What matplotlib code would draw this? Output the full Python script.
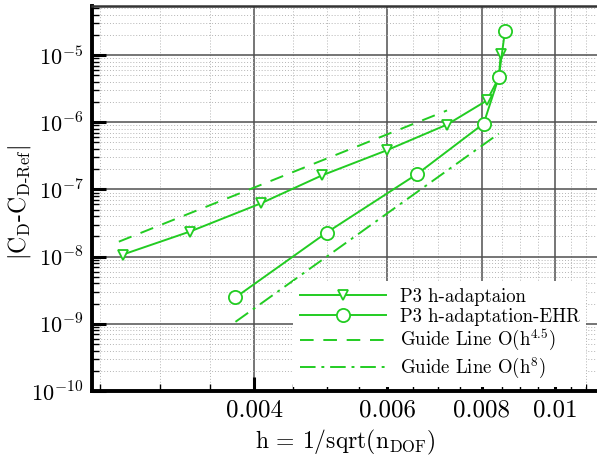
import numpy as np
import matplotlib
matplotlib.use("Agg")
import matplotlib.pyplot as plt
from matplotlib.ticker import FixedLocator, FixedFormatter, NullFormatter

plt.rcParams['font.family'] = 'serif'
plt.rcParams['font.serif'] = ['cmr10']
plt.rcParams['mathtext.fontset'] = 'cm'
plt.rcParams['axes.unicode_minus'] = False

# P3 h-adaptaion (triangles)
h_tri = [0.00268, 0.00329, 0.00408, 0.00492, 0.00599, 0.00720, 0.00813, 0.00843, 0.00848]
err_tri = [1.07e-8, 2.36e-8, 6.18e-8, 1.62e-7, 3.82e-7, 9.24e-7, 2.11e-6, 4.6e-6, 1.03e-5]

# P3 h-adaptation-EHR (circles)
h_circ = [0.00378, 0.00499, 0.00658, 0.00805, 0.00843, 0.00859]
err_circ = [2.47e-9, 2.28e-8, 1.71e-7, 9.56e-7, 4.70e-6, 2.28e-5]

# guide lines (end points)
h_g45 = [0.00265, 0.00720]
err_g45 = [1.67e-8, 1.50e-6]
h_g8 = [0.00378, 0.00843]
err_g8 = [1.07e-9, 6.78e-7]

xticks = [0.004, 0.006, 0.008, 0.01]
xtick_labels = ['0.004', '0.006', '0.008', '0.01']
yticks = [1e-10, 1e-9, 1e-8, 1e-7, 1e-6, 1e-5]
ytick_labels = [r'$10^{-10}$', r'$10^{-9}$', r'$10^{-8}$', r'$10^{-7}$', r'$10^{-6}$', r'$10^{-5}$']

green = '#22cc22'

fig = plt.figure(figsize=(5.97, 4.59), dpi=100)
ax = fig.add_axes([92/597, 1-391/459, 520/597, 385/459])
ax.set_xscale('log')
ax.set_yscale('log')

ax.plot(h_tri, err_tri, color=green, lw=1.4, marker='v', ms=7.5,
        mfc='white', mec=green, mew=1.3, label='P3 h-adaptaion', zorder=3)
ax.plot(h_circ, err_circ, color=green, lw=1.4, marker='o', ms=9.5,
        mfc='white', mec=green, mew=1.3, label='P3 h-adaptation-EHR', zorder=4)
ax.plot(h_g45, err_g45, color=green, lw=1.4, ls=(0, (7, 5)),
        label='Guide Line O(h$^{4.5}$)', zorder=3)
ax.plot(h_g8, err_g8, color=green, lw=1.4, ls=(0, (8, 3, 1.5, 3)),
        label='Guide Line O(h$^{8}$)', zorder=3)

ax.set_xlim(0.002442, 0.0119)
ax.set_ylim(1e-10, 5.38e-5)

ax.xaxis.set_major_locator(FixedLocator(xticks))
ax.xaxis.set_major_formatter(FixedFormatter(xtick_labels))
ax.xaxis.set_minor_locator(FixedLocator(np.arange(0.0025, 0.012, 0.0005)))
ax.xaxis.set_minor_formatter(NullFormatter())
ax.yaxis.set_major_locator(FixedLocator(yticks))
ax.yaxis.set_major_formatter(FixedFormatter(ytick_labels))
ax.yaxis.set_minor_locator(matplotlib.ticker.LogLocator(base=10, subs=np.arange(2, 10), numticks=20))
ax.yaxis.set_minor_formatter(NullFormatter())

ax.tick_params(which='major', direction='in', length=10, width=2.2, pad=6)
ax.tick_params(axis='x', which='major', labelsize=18)
ax.tick_params(axis='y', which='major', labelsize=16)
ax.tick_params(which='minor', direction='in', length=5, width=1.0)
ax.tick_params(top=False, right=False, which='both')

ax.grid(which='major', color='#505050', lw=1.1, ls='-')
ax.grid(which='minor', color='#b4b4b4', lw=0.7, ls=(0, (1, 2)))
ax.set_axisbelow(True)

for s in ['left', 'bottom']:
    ax.spines[s].set_linewidth(2.8)
ax.spines['top'].set_linewidth(1.8)
ax.spines['top'].set_color('#333333')
ax.spines['right'].set_visible(False)

ax.set_xlabel(r'h = 1/sqrt(n$_\mathrm{DOF}$)', fontsize=17)
ax.set_ylabel(r'$|\mathrm{C_D}$-$\mathrm{C_{D\text{-}Ref}}|$', fontsize=17)
ax.xaxis.set_label_coords(253/520, -0.097)
ax.yaxis.set_label_coords(-0.113, 0.49)

leg = ax.legend(loc='upper left', bbox_to_anchor=(293/597, 1-281/459),
                bbox_transform=fig.transFigure, fontsize=13.5, frameon=True,
                fancybox=False, edgecolor='none', facecolor='white', framealpha=1,
                handlelength=4.6, handletextpad=0.75, labelspacing=0.12,
                borderaxespad=0, borderpad=0.35)
leg.set_zorder(5)

fig.savefig('out.png', dpi=100)
